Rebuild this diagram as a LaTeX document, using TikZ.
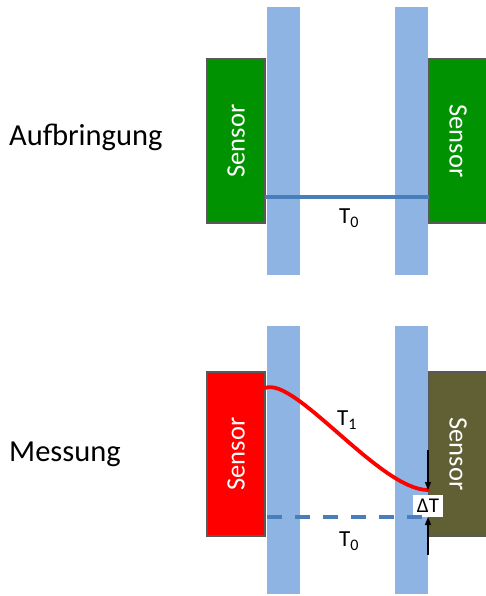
\documentclass[tikz,border=0pt]{standalone}
\usepackage{fontspec}
\setmainfont{Carlito}
\usetikzlibrary{arrows.meta}
\definecolor{barblue}{RGB}{141,180,226}
\definecolor{lineblue}{RGB}{74,126,187}
\definecolor{sensgreen}{RGB}{0,146,0}
\definecolor{sensred}{RGB}{255,0,0}
\definecolor{sensolive}{RGB}{97,95,52}
\definecolor{edgegray}{RGB}{89,89,89}
\tikzset{
  bar/.style={fill=barblue, draw=none, minimum width=33pt, minimum height=268pt, inner sep=0pt, outer sep=0pt},
  sensorbox/.style={draw=edgegray, line width=1.3pt, minimum width=58pt, minimum height=164pt, inner sep=0pt, outer sep=0pt},
  sensortext/.style={text=white, font=\fontsize{26.5}{30}\selectfont},
  rowlabel/.style={font=\fontsize{30.5}{36}\selectfont, anchor=base west, inner sep=0pt},
  templabel/.style={font=\fontsize{23}{26}\selectfont, inner sep=0pt},
  templine/.style={draw=lineblue, line width=3.5pt},
  dtarrow/.style={line width=1.4pt, -{Triangle[length=8pt,width=6pt]}}
}
\begin{document}
\begin{tikzpicture}[x=1pt, y=-1pt]
\useasboundingbox (0,0) rectangle (486,596);

% row labels
\node[rowlabel] (lab1) at (9,146) {Aufbringung};
\node[rowlabel] (lab2) at (9,461) {Messung};

% ---- upper row: mounting ----
\node[sensorbox, fill=sensgreen] (s1l) at (236,141) {};
\node[sensorbox, fill=sensgreen] (s1r) at (458,141) {};
\node[sensortext, rotate=90] (t1l) at (s1l) {Sensor};
\node[sensortext, rotate=-90] (t1r) at (458,141) {Sensor};
\node[bar] (b1l) at (283.5,141) {};
\node[bar] (b1r) at (411,141) {};
\coordinate (p1l) at (265,197);
\coordinate (p1r) at (429,197);
\draw[templine] (p1l) -- (p1r);
\node[templabel] (tz1) at (349,218) {T\textsubscript{0}};

% ---- lower row: measurement ----
\node[sensorbox, fill=sensred] (s2l) at (236,454) {};
\node[sensorbox, fill=sensolive] (s2r) at (458,454) {};
\node[sensortext, rotate=90] (t2l) at (s2l) {Sensor};
\node[sensortext, rotate=-90] (t2r) at (458,454) {Sensor};
\node[bar] (b2l) at (283.5,460) {};
\node[bar] (b2r) at (411,460) {};

\coordinate (c0) at (265,388);
\coordinate (c1) at (428,490);
\draw[sensred, line width=3.8pt, line cap=round] (c0) .. controls (295,376) and (380,490) .. (c1);
\node[templabel] (tone) at (347,420) {T\textsubscript{1}};

\node[fill=white, inner sep=2pt, minimum width=30pt, minimum height=22pt, font=\fontsize{21}{24}\selectfont] (dt) at (428,505.5) {ΔT};

\coordinate (d0) at (267,517);
\coordinate (d1) at (429,517);
\draw[templine, dash pattern=on 15pt off 13pt] (d0) -- (d1);
\node[templabel] (tz2) at (349,541) {T\textsubscript{0}};

\coordinate (a1) at (428,450);
\coordinate (a2) at (428,555);
\coordinate (a2e) at (428,517);
\draw[dtarrow] (a1) -- (c1);
\draw[dtarrow] (a2) -- (a2e);
\end{tikzpicture}
\end{document}
